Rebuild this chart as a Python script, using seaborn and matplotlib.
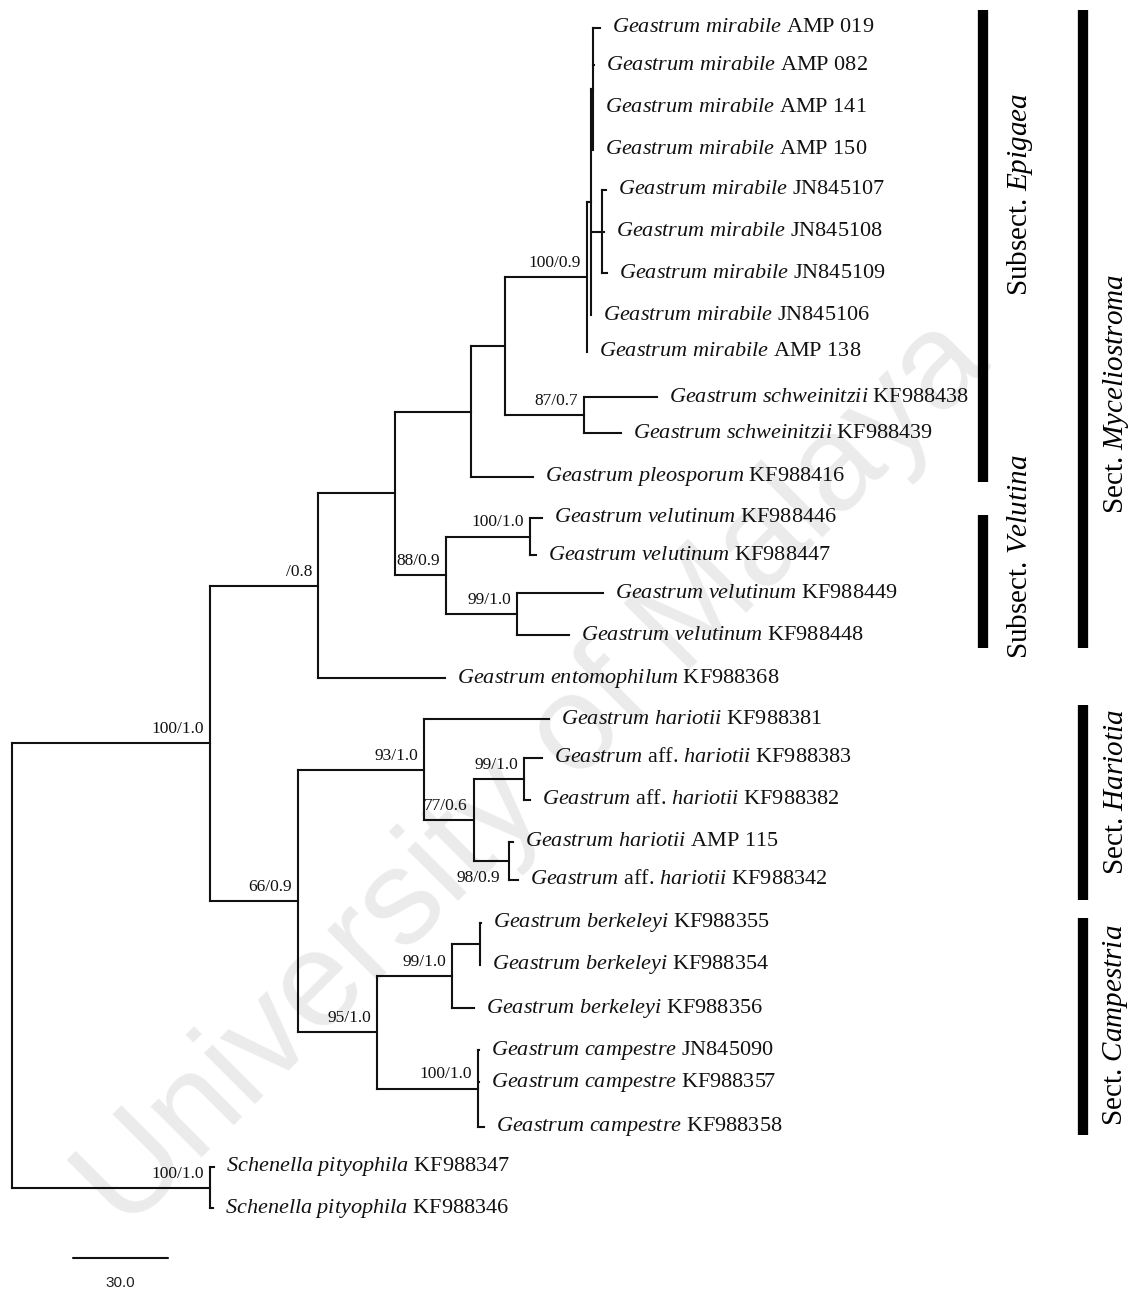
import numpy as np
import pandas as pd
import matplotlib
matplotlib.use("Agg")
import matplotlib.pyplot as plt
import seaborn as sns

# ---- leaves, top to bottom ----
taxa = ["Geastrum mirabile"] * 9 + \
       ["Geastrum schweinitzii"] * 2 + \
       ["Geastrum pleosporum"] + \
       ["Geastrum velutinum"] * 4 + \
       ["Geastrum entomophilum", "Geastrum hariotii",
        "Geastrum aff. hariotii", "Geastrum aff. hariotii",
        "Geastrum hariotii", "Geastrum aff. hariotii"] + \
       ["Geastrum berkeleyi"] * 3 + \
       ["Geastrum campestre"] * 3 + \
       ["Schenella pityophila"] * 2
accessions = ["AMP 019", "AMP 082", "AMP 141", "AMP 150", "JN845107",
              "JN845108", "JN845109", "JN845106", "AMP 138",
              "KF988438", "KF988439", "KF988416",
              "KF988446", "KF988447", "KF988449", "KF988448",
              "KF988368", "KF988381", "KF988383", "KF988382",
              "AMP 115", "KF988342",
              "KF988355", "KF988354", "KF988356",
              "JN845090", "KF988357", "KF988358",
              "KF988347", "KF988346"]
leaf_y = [28, 65, 108, 150, 190, 232, 273, 315, 352, 397, 433, 477,
          518, 555, 593, 635, 678, 719, 758, 800, 842, 880,
          923, 965, 1008, 1050, 1082, 1127, 1167, 1208]
tip_depth = [185.5, 183.6, 183.3, 183.3, 187.4, 186.8, 187.7, 182.6, 181.4,
             203.5, 192.1, 164.4, 167.2, 165.3, 186.4, 175.7,
             136.6, 169.4, 167.2, 163.4, 158.0, 159.6,
             147.9, 147.6, 145.7, 147.3, 147.3, 148.9, 63.7, 63.4]

# ---- internal nodes ----
node_names = ["root", "A", "schen", "B", "C", "C2", "D", "M1", "M2", "M3",
              "M4", "schw", "E", "vel1", "vel2", "F", "G", "H", "har1",
              "har2", "I", "berk", "berk2", "camp"]
node_children = [
    ["A", "schen"], ["B", "F"], ["KF988347", "KF988346"],
    ["C", "KF988368"], ["C2", "E"], ["D", "KF988416"], ["M1", "schw"],
    ["M2", "AMP 138"], ["M3", "M4", "JN845106"],
    ["AMP 019", "AMP 082", "AMP 141", "AMP 150"],
    ["JN845107", "JN845108", "JN845109"], ["KF988438", "KF988439"],
    ["vel1", "vel2"], ["KF988446", "KF988447"], ["KF988449", "KF988448"],
    ["G", "I"], ["KF988381", "H"], ["har1", "har2"],
    ["KF988383", "KF988382"], ["AMP 115", "KF988342"],
    ["berk", "camp"], ["berk2", "KF988356"], ["KF988355", "KF988354"],
    ["JN845090", "KF988357", "KF988358"]]
node_depth = [0, 62.5, 62.5, 96.5, 120.8, 144.8, 155.5, 181.4, 182.6, 183.3,
              186.1, 180.4, 136.9, 163.4, 159.3, 90.2, 130.0, 145.7, 161.5,
              156.8, 115.1, 138.8, 147.6, 147.0]
node_support = ["", "100/1.0", "100/1.0", "/0.8", "", "", "", "100/0.9", "",
                "", "", "87/0.7", "88/0.9", "100/1.0", "99/1.0", "66/0.9",
                "93/1.0", "77/0.6", "99/1.0", "98/0.9", "95/1.0", "99/1.0",
                "", "100/1.0"]
support_below = ["har2"]

# ---- clade bars ----
clade_text = [r"Subsect. $\mathit{Epigaea}$", r"Subsect. $\mathit{Velutina}$",
              r"Sect. $\mathit{Myceliostroma}$", r"Sect. $\mathit{Hariotia}$",
              r"Sect. $\mathit{Campestria}$"]
clade_top = [10, 515, 10, 705, 918]
clade_bottom = [482, 648, 648, 900, 1135]
clade_col = [0, 0, 1, 1, 1]
clade_text_y = [194, 557, 394, 792, 1025]

scale_len = 30.0
PX_PER_UNIT = 3.17
ROOT_PX = 12


def ux(px):
    return (px - ROOT_PX) / PX_PER_UNIT


sns.set_theme(style="white")
plt.rcParams["font.family"] = ["Liberation Serif", "DejaVu Serif"]
plt.rcParams["mathtext.fontset"] = "custom"
plt.rcParams["mathtext.it"] = "Liberation Serif:italic"
plt.rcParams["mathtext.rm"] = "Liberation Serif"
plt.rcParams["mathtext.bf"] = "Liberation Serif:bold"

leaf_pos = {a: (d, y) for a, d, y in zip(accessions, tip_depth, leaf_y)}
nodes = {n: (c, d, s) for n, c, d, s in zip(node_names, node_children,
                                             node_depth, node_support)}

rows = []
node_xy = {}


def add_seg(x0, y0, x1, y1):
    sid = len(rows) // 2
    rows.append((sid, x0, y0))
    rows.append((sid, x1, y1))


def layout(name):
    if name in leaf_pos:
        return leaf_pos[name]
    kids, depth, _ = nodes[name]
    ys = []
    for k in kids:
        kx, ky = layout(k)
        add_seg(depth, ky, kx, ky)
        ys.append(ky)
    y = (ys[0] + ys[-1]) / 2
    add_seg(depth, min(ys), depth, max(ys))
    node_xy[name] = (depth, y)
    return depth, y


layout("root")
seg = pd.DataFrame(rows, columns=["seg", "x", "y"])

fig = plt.figure(figsize=(11.41, 12.93), dpi=100)
ax = fig.add_axes([0, 0, 1, 1])

# watermark
ax.text(ux(535), 775, "University of Malaya", rotation=45, ha="center",
        va="center", fontsize=98, color="#ebebeb",
        family="Liberation Sans", zorder=0)

sns.lineplot(data=seg, x="x", y="y", units="seg", estimator=None, sort=False,
             color="#111111", linewidth=1.5, ax=ax, legend=False,
             solid_capstyle="projecting", zorder=2)

# support values
for n, (kids, depth, sup) in nodes.items():
    if not sup:
        continue
    x, y = node_xy[n]
    if n in support_below:
        ax.annotate(sup, (x, y), xytext=(-9, -9), textcoords="offset pixels",
                    ha="right", va="top", fontsize=12.5, color="#111111")
    else:
        ax.annotate(sup, (x, y), xytext=(-6, 6), textcoords="offset pixels",
                    ha="right", va="bottom", fontsize=12.5, color="#111111")

# leaf labels
for t, a, d, y in zip(taxa, accessions, tip_depth, leaf_y):
    parts = [r"$\mathit{" + p.replace(" ", r"\ ") + "}$"
             for p in t.split(" aff. ")]
    lab = " aff. ".join(parts) + " " + a
    ax.annotate(lab, (d, y), xytext=(12, 0), textcoords="offset pixels",
                ha="left", va="center", fontsize=16, color="#111111")

# clade bars and names
bar_px = [983, 1083]
text_px = [1020, 1116]
for lab, y0, y1, c, ty in zip(clade_text, clade_top, clade_bottom,
                               clade_col, clade_text_y):
    ax.plot([ux(bar_px[c])] * 2, [y0, y1], color="black", lw=7.4,
            solid_capstyle="butt")
    ax.text(ux(text_px[c]), ty, lab, rotation=90, ha="center", va="center",
            fontsize=21, color="black")

# scale bar
sx0 = ux(73)
ax.plot([sx0, sx0 + scale_len], [1258, 1258], color="#111111", lw=1.5)
ax.text(sx0 + scale_len / 2, 1283, f"{scale_len:.1f}", ha="center",
        va="center", fontsize=11, family="Liberation Sans", color="#222222")

ax.set_xlim(ux(0), ux(1141))
ax.set_ylim(1293, 0)
ax.set_axis_off()
fig.savefig("out.png", dpi=100, facecolor="white")
